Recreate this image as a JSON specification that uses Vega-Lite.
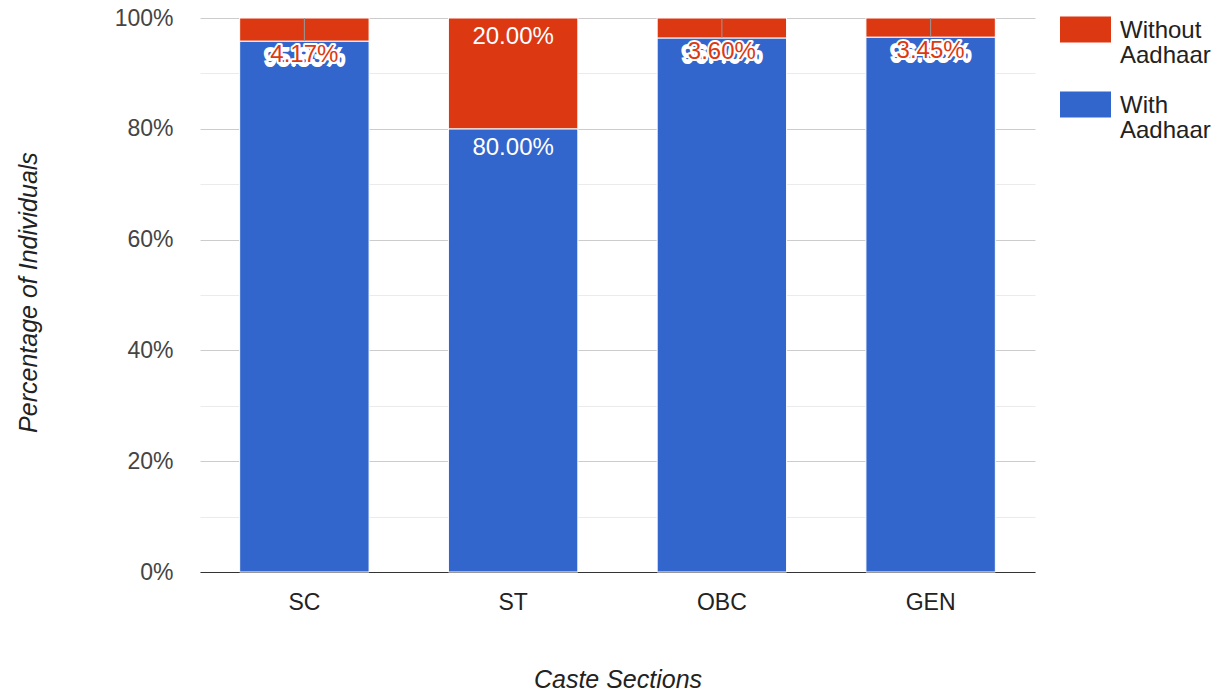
{
  "$schema": "https://vega.github.io/schema/vega-lite/v6.json",
  "width": 835,
  "height": 554,
  "autosize": {"type": "none"},
  "padding": {"left": 200, "top": 18, "right": 186, "bottom": 124},
  "background": "white",
  "config": {
    "view": {"stroke": null},
    "font": "Liberation Sans",
    "style": {"guide-label": {"lineHeight": 25}}
  },
  "data": {
    "values": [
      {"caste": "SC", "status": "With Aadhaar", "share": 0.9583},
      {"caste": "SC", "status": "Without Aadhaar", "share": 0.0417},
      {"caste": "ST", "status": "With Aadhaar", "share": 0.8},
      {"caste": "ST", "status": "Without Aadhaar", "share": 0.2},
      {"caste": "OBC", "status": "With Aadhaar", "share": 0.964},
      {"caste": "OBC", "status": "Without Aadhaar", "share": 0.036},
      {"caste": "GEN", "status": "With Aadhaar", "share": 0.9655},
      {"caste": "GEN", "status": "Without Aadhaar", "share": 0.0345}
    ]
  },
  "encoding": {
    "x": {
      "field": "caste",
      "type": "nominal",
      "sort": ["SC", "ST", "OBC", "GEN"],
      "title": "Caste Sections",
      "scale": {"paddingInner": 0.38, "paddingOuter": 0.19},
      "axis": {
        "labelAngle": 0,
        "labelFontSize": 23,
        "labelColor": "#222222",
        "labelPadding": 19,
        "ticks": false,
        "domainColor": "#333333",
        "domainWidth": 1,
        "titleFontSize": 25,
        "titleFontStyle": "italic",
        "titleFontWeight": "normal",
        "titleColor": "#222222",
        "titleX": 417.5,
        "titleY": 107,
        "titleBaseline": "middle",
        "titleAlign": "center"
      }
    }
  },
  "layer": [
    {
      "mark": {"type": "bar", "stroke": "white", "strokeWidth": 1},
      "encoding": {
        "y": {
          "field": "share",
          "type": "quantitative",
          "stack": "zero",
          "title": "Percentage of Individuals",
          "scale": {"domain": [0, 1], "nice": false},
          "axis": {
            "values": [0, 0.1, 0.2, 0.3, 0.4, 0.5, 0.6, 0.7, 0.8, 0.9, 1],
            "labelExpr": "round(datum.value*10)%2==0 ? format(datum.value,'.0%') : ''",
            "gridColor": {"condition": {"test": "round(datum.value*10)%2==1", "value": "#ebebeb"}, "value": "#cccccc"},
            "domain": false,
            "ticks": false,
            "labelPadding": 27,
            "labelFontSize": 23,
            "labelColor": "#444444",
            "labelBaseline": "middle",
            "titleFontSize": 25,
            "titleFontStyle": "italic",
            "titleFontWeight": "normal",
            "titleColor": "#222222",
            "titleX": -172,
            "titleY": 274,
            "titleAngle": 270,
            "titleBaseline": "middle",
            "titleAlign": "center"
          }
        },
        "color": {
          "field": "status",
          "type": "nominal",
          "scale": {"domain": ["Without Aadhaar", "With Aadhaar"], "range": ["#dc3912", "#3366cc"]},
          "legend": {
            "title": null,
            "orient": "none",
            "legendX": 860,
            "legendY": -25,
            "symbolType": "M-1,-0.08H1V0.94H-1Z",
            "symbolSize": 2601,
            "symbolStrokeWidth": 0,
            "symbolOpacity": 1,
            "labelExpr": "split(datum.label, ' ')",
            "labelFontSize": 24,
            "labelColor": "#222222",
            "labelOffset": 9,
            "labelBaseline": "top",
            "rowPadding": -1,
            "labelLimit": 200
          }
        },
        "order": {"field": "status", "sort": "ascending"}
      }
    },
    {
      "transform": [
        {"pivot": "status", "value": "share", "groupby": ["caste"]},
        {"filter": "datum['Without Aadhaar'] < 0.1"}
      ],
      "mark": {"type": "rule", "color": "#999999", "strokeWidth": 1},
      "encoding": {
        "x": {"field": "caste", "type": "nominal", "sort": ["SC", "ST", "OBC", "GEN"], "bandPosition": 0.5},
        "y": {"field": "With Aadhaar", "type": "quantitative", "title": "Percentage of Individuals"},
        "y2": {"datum": 1}
      }
    },
    {
      "transform": [{"filter": "datum.status == 'With Aadhaar' && datum.share > 0.9"}],
      "mark": {"type": "text", "baseline": "top", "dy": 5, "fontSize": 24, "fill": "white", "stroke": "white", "strokeWidth": 2},
      "encoding": {
        "y": {"field": "share", "type": "quantitative", "title": "Percentage of Individuals"},
        "text": {"field": "share", "type": "quantitative", "format": ".2%"}
      }
    },
    {
      "transform": [{"filter": "datum.status == 'With Aadhaar'"}],
      "mark": {"type": "text", "baseline": "top", "dy": 7, "fontSize": 24, "fill": "white"},
      "encoding": {
        "y": {"field": "share", "type": "quantitative", "title": "Percentage of Individuals"},
        "text": {"field": "share", "type": "quantitative", "format": ".2%"}
      }
    },
    {
      "transform": [{"filter": "datum.status == 'Without Aadhaar' && datum.share >= 0.1"}],
      "mark": {"type": "text", "baseline": "top", "dy": 7, "fontSize": 24, "fill": "white"},
      "encoding": {
        "y": {"datum": 1, "type": "quantitative"},
        "text": {"field": "share", "type": "quantitative", "format": ".2%"}
      }
    },
    {
      "transform": [
        {"pivot": "status", "value": "share", "groupby": ["caste"]},
        {"filter": "datum['Without Aadhaar'] < 0.1"}
      ],
      "mark": {"type": "text", "baseline": "top", "dy": 2, "fontSize": 24, "fill": "white", "stroke": "white", "strokeWidth": 4, "strokeJoin": "round"},
      "encoding": {
        "y": {"field": "With Aadhaar", "type": "quantitative", "title": "Percentage of Individuals"},
        "text": {"field": "Without Aadhaar", "type": "quantitative", "format": ".2%"}
      }
    },
    {
      "transform": [
        {"pivot": "status", "value": "share", "groupby": ["caste"]},
        {"filter": "datum['Without Aadhaar'] < 0.1"}
      ],
      "mark": {"type": "text", "baseline": "top", "dy": 2, "fontSize": 24, "fill": "#dc3912"},
      "encoding": {
        "y": {"field": "With Aadhaar", "type": "quantitative", "title": "Percentage of Individuals"},
        "text": {"field": "Without Aadhaar", "type": "quantitative", "format": ".2%"}
      }
    }
  ]
}
